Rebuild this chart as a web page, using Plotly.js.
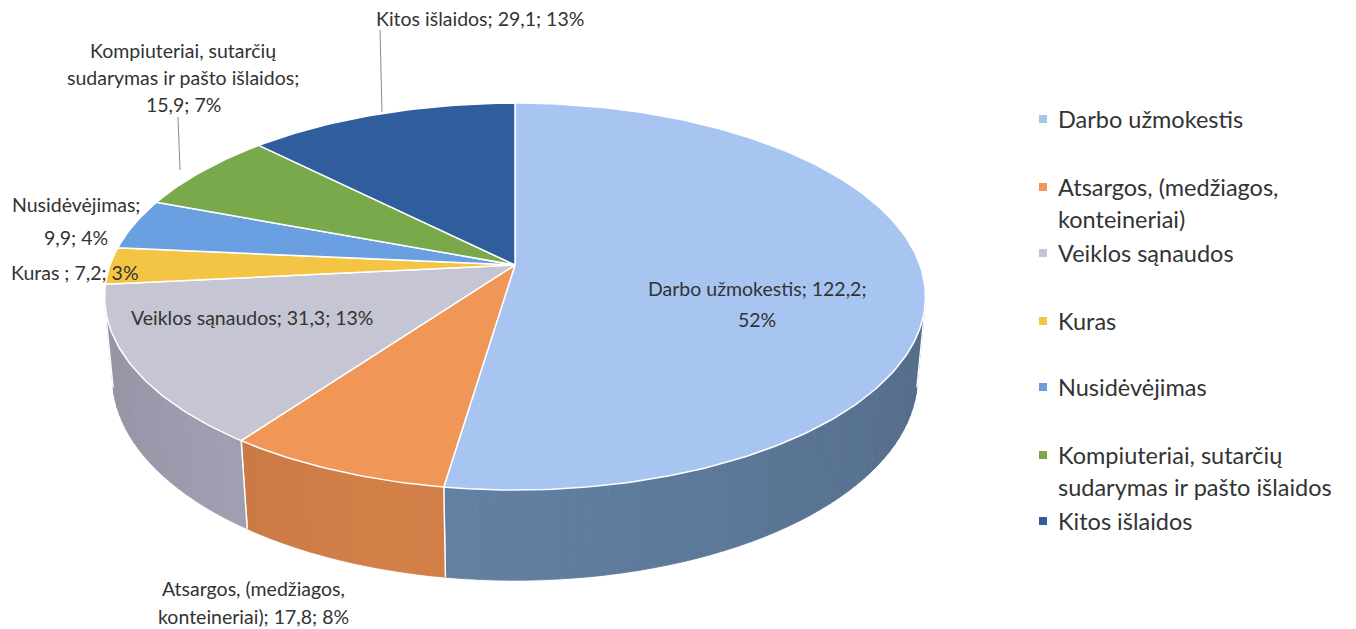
<!DOCTYPE html>
<html><head><meta charset="utf-8">
<script src="https://cdn.plot.ly/plotly-3.0.1.min.js"></script>
<style>html,body{margin:0;padding:0;background:#fff}#chart{width:1356px;height:629px}</style>
</head><body><div id="chart"></div>
<script>
// ---- data ----
const categories = ["Darbo užmokestis", "Atsargos, (medžiagos, konteineriai)", "Veiklos sąnaudos", "Kuras", "Nusidėvėjimas", "Kompiuteriai, sutarčių sudarymas ir pašto išlaidos", "Kitos išlaidos"];
const values = [122.2, 17.8, 31.3, 7.2, 9.9, 15.9, 29.1];
const valueTexts = ["122,2", "17,8", "31,3", "7,2", "9,9", "15,9", "29,1"];
const percentTexts = ["52%", "8%", "13%", "3%", "4%", "7%", "13%"];
const legendLines = [["Darbo užmokestis"], ["Atsargos, (medžiagos,", "konteineriai)"], ["Veiklos sąnaudos"], ["Kuras"], ["Nusidėvėjimas"], ["Kompiuteriai, sutarčių", "sudarymas ir pašto išlaidos"], ["Kitos išlaidos"]];
const sliceLabelLines = [
  ["Darbo užmokestis; 122,2;", "52%"],
  ["Atsargos, (medžiagos,", "konteineriai); 17,8; 8%"],
  ["Veiklos sąnaudos; 31,3; 13%"],
  ["Kuras ; 7,2; 3%"],
  ["Nusidėvėjimas;", "9,9; 4%"],
  ["Kompiuteriai, sutarčių", "sudarymas ir pašto išlaidos;", "15,9; 7%"],
  ["Kitos išlaidos; 29,1; 13%"]
];

// ---- styling ----
const topColors  = ["#a7c5f0", "#f09657", "#c5c5d3", "#f4c544", "#6a9fe2", "#7aa94b", "#2f5d9d"];
const wallColors = ["#5f7b9c", "#c77844", "#9d9daf", "#c49c32", "#4e7cb9", "#5b8a37", "#22467b"];
const FONT = "Lato, 'Open Sans', sans-serif";
const TXT = "#333333";

// ---- 3D pie projection (pixel space of a 1:1 cartesian axis) ----
const CX = 515, CY = 265, F = 2199, D = 5.43, COSA = 0.885, SINA = 0.465, H = 0.228;
function proj(r, deg, yw) {
  const t = deg * Math.PI / 180;
  const x = r * Math.sin(t), z = -r * Math.cos(t);
  const yc = yw * COSA - z * SINA;
  const zc = yw * SINA + z * COSA;
  const d = D - zc;
  return [CX + F * x / d, CY - F * yc / d];
}
function shade(hex, f) {
  const n = parseInt(hex.slice(1), 16);
  const c = [(n >> 16) & 255, (n >> 8) & 255, n & 255].map(v => Math.max(0, Math.min(255, Math.round(v * f))));
  return "rgb(" + c.join(",") + ")";
}

const total = values.reduce((a, b) => a + b, 0);
const starts = [], ends = [];
let cum = 0;
values.forEach(v => { starts.push(cum / total * 360); cum += v; ends.push(cum / total * 360); });

const traces = [];
const WMIN = 102, WMAX = 258;
// walls
values.forEach((v, i) => {
  const a = Math.max(starts[i], WMIN), b = Math.min(ends[i], WMAX);
  if (b <= a) return;
  const nseg = Math.max(1, Math.ceil((b - a) / 2));
  for (let s = 0; s < nseg; s++) {
    const t0 = a + (b - a) * s / nseg, t1 = a + (b - a) * (s + 1) / nseg;
    const tm = (t0 + t1) / 2;
    const f = 1.06 - 0.2 * Math.abs(tm - 195) / 95;
    const col = shade(wallColors[i], f);
    const xs = [], ys = [];
    [t0, t1].forEach(t => { const p = proj(1, t, 0); xs.push(p[0]); ys.push(p[1]); });
    [t1, t0].forEach(t => { const p = proj(1, t, -H); xs.push(p[0]); ys.push(p[1]); });
    xs.push(xs[0]); ys.push(ys[0]);
    traces.push({type: "scatter", mode: "lines", x: xs, y: ys, fill: "toself", fillcolor: col,
      line: {color: col, width: 0.8}, hoverinfo: "skip", showlegend: false});
  }
  // white edges of the wall
  const xs = [], ys = [];
  let p = proj(1, a, -H); xs.push(p[0]); ys.push(p[1]);
  p = proj(1, a, 0); xs.push(p[0]); ys.push(p[1]);
  xs.push(null); ys.push(null);
  p = proj(1, b, -H); xs.push(p[0]); ys.push(p[1]);
  p = proj(1, b, 0); xs.push(p[0]); ys.push(p[1]);
  traces.push({type: "scatter", mode: "lines", x: xs, y: ys, line: {color: "#ffffff", width: 1.4},
    hoverinfo: "skip", showlegend: false});
});
// top faces
values.forEach((v, i) => {
  const xs = [CX], ys = [CY];
  const n = Math.max(2, Math.ceil(ends[i] - starts[i]));
  for (let k = 0; k <= n; k++) {
    const p = proj(1, starts[i] + (ends[i] - starts[i]) * k / n, 0);
    xs.push(p[0]); ys.push(p[1]);
  }
  xs.push(CX); ys.push(CY);
  traces.push({type: "scatter", mode: "lines", x: xs, y: ys, fill: "toself", fillcolor: topColors[i],
    line: {color: "#ffffff", width: 1.5}, name: categories[i],
    text: categories[i] + "; " + valueTexts[i] + "; " + percentTexts[i], hoverinfo: "text", showlegend: false});
});

// ---- labels ----
const annotations = [];
function addLines(lines, cx, y0, step, size, anchor) {
  lines.forEach((t, k) => annotations.push({xref: "x", yref: "y", x: cx, y: y0 + k * step, text: t,
    showarrow: false, xanchor: anchor || "center", yanchor: "middle", font: {family: FONT, size: size, color: TXT}}));
}
// slice labels: [center x, first line y, line step]
const labelPos = [[757, 288, 31], [253, 588, 28], [252, 317, 0], [75, 272, 0], [76, 204, 33], [183, 50, 27], [480, 18, 0]];
sliceLabelLines.forEach((lines, i) => addLines(lines, labelPos[i][0], labelPos[i][1], labelPos[i][2], 19.5));
// legend
const legendY = [119, 187, 253, 321, 387, 455, 521];
const shapes = [];
legendLines.forEach((lines, i) => {
  addLines(lines, 1056, legendY[i], 32, 23.5, "left");
  shapes.push({type: "rect", xref: "x", yref: "y", x0: 1039, x1: 1047, y0: legendY[i] - 4, y1: legendY[i] + 4,
    fillcolor: topColors[i], line: {width: 0}});
});
// leader lines
shapes.push({type: "line", xref: "x", yref: "y", x0: 380, y0: 30, x1: 382, y1: 112, line: {color: "#8a8a8a", width: 1}});
shapes.push({type: "line", xref: "x", yref: "y", x0: 178, y0: 117, x1: 180, y1: 170, line: {color: "#8a8a8a", width: 1}});

const layout = {
  width: 1356, height: 629, margin: {l: 0, r: 0, t: 0, b: 0},
  paper_bgcolor: "#ffffff", plot_bgcolor: "#ffffff",
  xaxis: {range: [0, 1356], visible: false, fixedrange: true},
  yaxis: {range: [629, 0], visible: false, fixedrange: true},
  showlegend: false, annotations: annotations, shapes: shapes
};
Plotly.newPlot("chart", traces, layout, {displayModeBar: false, staticPlot: true});
</script></body></html>
